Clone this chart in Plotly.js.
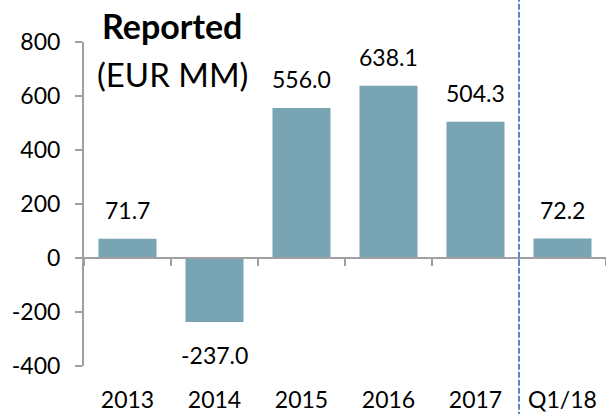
<!DOCTYPE html>
<html>
<head>
<meta charset="utf-8">
<script src="https://cdn.plot.ly/plotly-3.0.1.min.js"></script>
<style>html,body{margin:0;padding:0;background:#fff;}#chart{width:606px;height:414px;}</style>
</head>
<body>
<div id="chart"></div>
<script>
var categories = ["2013", "2014", "2015", "2016", "2017", "Q1/18"];
var values = [71.7, -237.0, 556.0, 638.1, 504.3, 72.2];
var labels = ["71.7", "-237.0", "556.0", "638.1", "504.3", "72.2"];
var yTicks = [-400, -200, 0, 200, 400, 600, 800];

var FONT = "Lato, 'Open Sans', sans-serif";
var barColor = "#79A4B4";
var axisColor = "#A0A0A0";

var traces = [
  {
    type: "bar", x: categories, y: values,
    marker: {color: barColor},
    hoverinfo: "skip", xaxis: "x", yaxis: "y"
  },
  {
    type: "scatter", mode: "markers", x: categories, y: values,
    marker: {opacity: 0}, hoverinfo: "skip", showlegend: false,
    xaxis: "x2", yaxis: "y"
  }
];

var annotations = categories.map(function (c, i) {
  var pos = values[i] >= 0;
  return {
    x: i, y: values[i], xref: "x", yref: "y",
    text: labels[i], showarrow: false,
    yanchor: pos ? "bottom" : "top",
    yshift: pos ? 13 : -17,
    font: {family: FONT, size: 23, color: "#000"}
  };
});
annotations.push({
  xref: "paper", yref: "paper", x: 0.169, y: 1.05, xanchor: "center", yanchor: "middle",
  text: "<b>Reported</b>", showarrow: false,
  font: {family: FONT, size: 34, color: "#000"}
});
annotations.push({
  xref: "paper", yref: "paper", x: 0.169, y: 0.9, xanchor: "center", yanchor: "middle",
  text: "(EUR MM)", showarrow: false,
  font: {family: FONT, size: 33, color: "#000"}
});

var layout = {
  width: 606, height: 414,
  margin: {l: 84, r: 0, t: 42, b: 48, pad: 0},
  paper_bgcolor: "#fff", plot_bgcolor: "#fff",
  showlegend: false,
  bargap: 0.333,
  font: {family: FONT, size: 23, color: "#000"},
  xaxis: {
    type: "category", range: [-0.5, 5.5], fixedrange: true,
    showline: false, showgrid: false, zeroline: false,
    ticks: "", ticklabelstandoff: 18,
    tickfont: {family: FONT, size: 23, color: "#000"}
  },
  xaxis2: {
    type: "category", range: [-0.5, 5.5], overlaying: "x",
    anchor: "free", position: 1 / 3,
    showline: true, linecolor: axisColor, linewidth: 2,
    ticks: "outside", tickson: "boundaries", ticklen: 7, tickwidth: 2, tickcolor: axisColor,
    showticklabels: false, showgrid: false, zeroline: false
  },
  yaxis: {
    range: [-400, 800], tickvals: yTicks, ticktext: yTicks.map(String),
    showline: true, linecolor: axisColor, linewidth: 2,
    ticks: "outside", ticklen: 7, tickwidth: 2, tickcolor: axisColor,
    ticklabelstandoff: 10,
    showgrid: false, zeroline: false,
    tickfont: {family: FONT, size: 23, color: "#000"}
  },
  shapes: [{
    type: "line", xref: "x", yref: "paper",
    x0: 4.5, x1: 4.5, y0: -0.16, y1: 1.15,
    line: {color: "#5089CC", width: 2, dash: "6px,2px"}
  }],
  annotations: annotations
};

Plotly.newPlot("chart", traces, layout, {staticPlot: true, displayModeBar: false});
</script>
</body>
</html>
